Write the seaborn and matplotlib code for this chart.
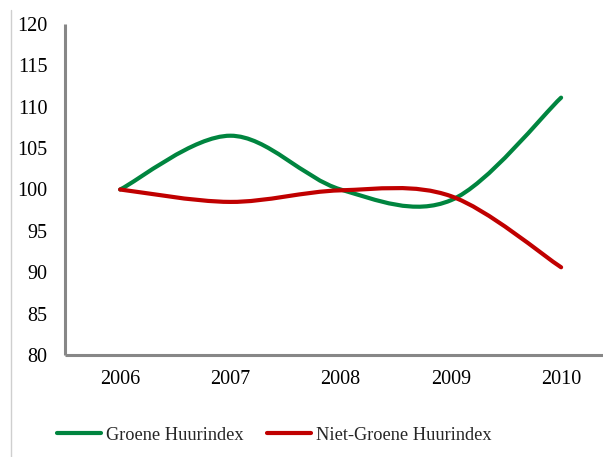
import numpy as np
import pandas as pd
import matplotlib
matplotlib.use("Agg")
import matplotlib.pyplot as plt
from matplotlib.path import Path
from matplotlib.patches import PathPatch
from matplotlib.lines import Line2D
import seaborn as sns

# --- data ---
years = [2006, 2007, 2008, 2009, 2010]
groene = [100.0, 106.5, 100.0, 98.7, 111.1]
niet_groene = [100.0, 98.5, 99.9, 99.2, 90.6]
series_names = ["Groene Huurindex", "Niet-Groene Huurindex"]
colors = ["#00853F", "#C00000"]

df = pd.DataFrame({
    "jaar": years * 2,
    "index": groene + niet_groene,
    "reeks": [series_names[0]] * len(years) + [series_names[1]] * len(years),
})

sns.set_style("white")
plt.rcParams["font.family"] = ["Liberation Serif", "DejaVu Serif"]

fig = plt.figure(figsize=(6.03, 4.57), dpi=100)
ax = fig.add_axes([65 / 603, 1 - 355 / 457, 1 - 65 / 603, (355 - 24) / 457])

sns.lineplot(data=df, x="jaar", y="index", hue="reeks", palette=colors,
             linewidth=3, ax=ax, legend=False)


def smooth_path(xs, ys):
    # Excel-style smoothed line: cubic Bezier with Catmull-Rom control points
    xs = np.asarray(xs, float)
    ys = np.asarray(ys, float)
    n = len(xs)
    verts = [(xs[0], ys[0])]
    codes = [Path.MOVETO]
    for i in range(n - 1):
        p0 = i - 1 if i > 0 else i
        p3 = i + 2 if i + 2 < n else i + 1
        c1 = (xs[i] + (xs[i + 1] - xs[p0]) / 6, ys[i] + (ys[i + 1] - ys[p0]) / 6)
        c2 = (xs[i + 1] - (xs[p3] - xs[i]) / 6, ys[i + 1] - (ys[p3] - ys[i]) / 6)
        verts += [c1, c2, (xs[i + 1], ys[i + 1])]
        codes += [Path.CURVE4] * 3
    return Path(verts, codes)


# replace the straight seaborn lines with smoothed curves
for line, col in zip(ax.get_lines(), colors):
    xd, yd = line.get_xdata(), line.get_ydata()
    line.set_visible(False)
    ax.add_patch(PathPatch(smooth_path(xd, yd), facecolor="none", edgecolor=col,
                           linewidth=3, capstyle="round", joinstyle="round"))

ax.set_xlim(2005.5, 2010.38)
ax.set_ylim(80, 120)
ax.set_xticks(years)
ax.set_yticks(np.arange(80, 121, 5))
ax.set_xlabel("")
ax.set_ylabel("")
ax.tick_params(axis="both", length=0, labelsize=14.5, colors="black")
ax.tick_params(axis="y", pad=12.5)
ax.tick_params(axis="x", pad=11)
for s in ["top", "right"]:
    ax.spines[s].set_visible(False)
for s in ["left", "bottom"]:
    ax.spines[s].set_color("#878787")
    ax.spines[s].set_linewidth(2.2)
    ax.spines[s].set_capstyle("butt")

handles = [Line2D([], [], color=c, linewidth=3, solid_capstyle="round") for c in colors]
fig.legend(handles, series_names, loc="center", bbox_to_anchor=(0.455, 0.048),
           ncol=2, frameon=False, fontsize=13.2, handlelength=2.4,
           handletextpad=0.25, columnspacing=1.3)

# thin border fragment on the left of the original image
fig.add_artist(Line2D([11 / 603, 11 / 603], [0, 1 - 10 / 457], color="#cfcfcf",
                      linewidth=1, transform=fig.transFigure))

fig.savefig("out.png", dpi=100)
